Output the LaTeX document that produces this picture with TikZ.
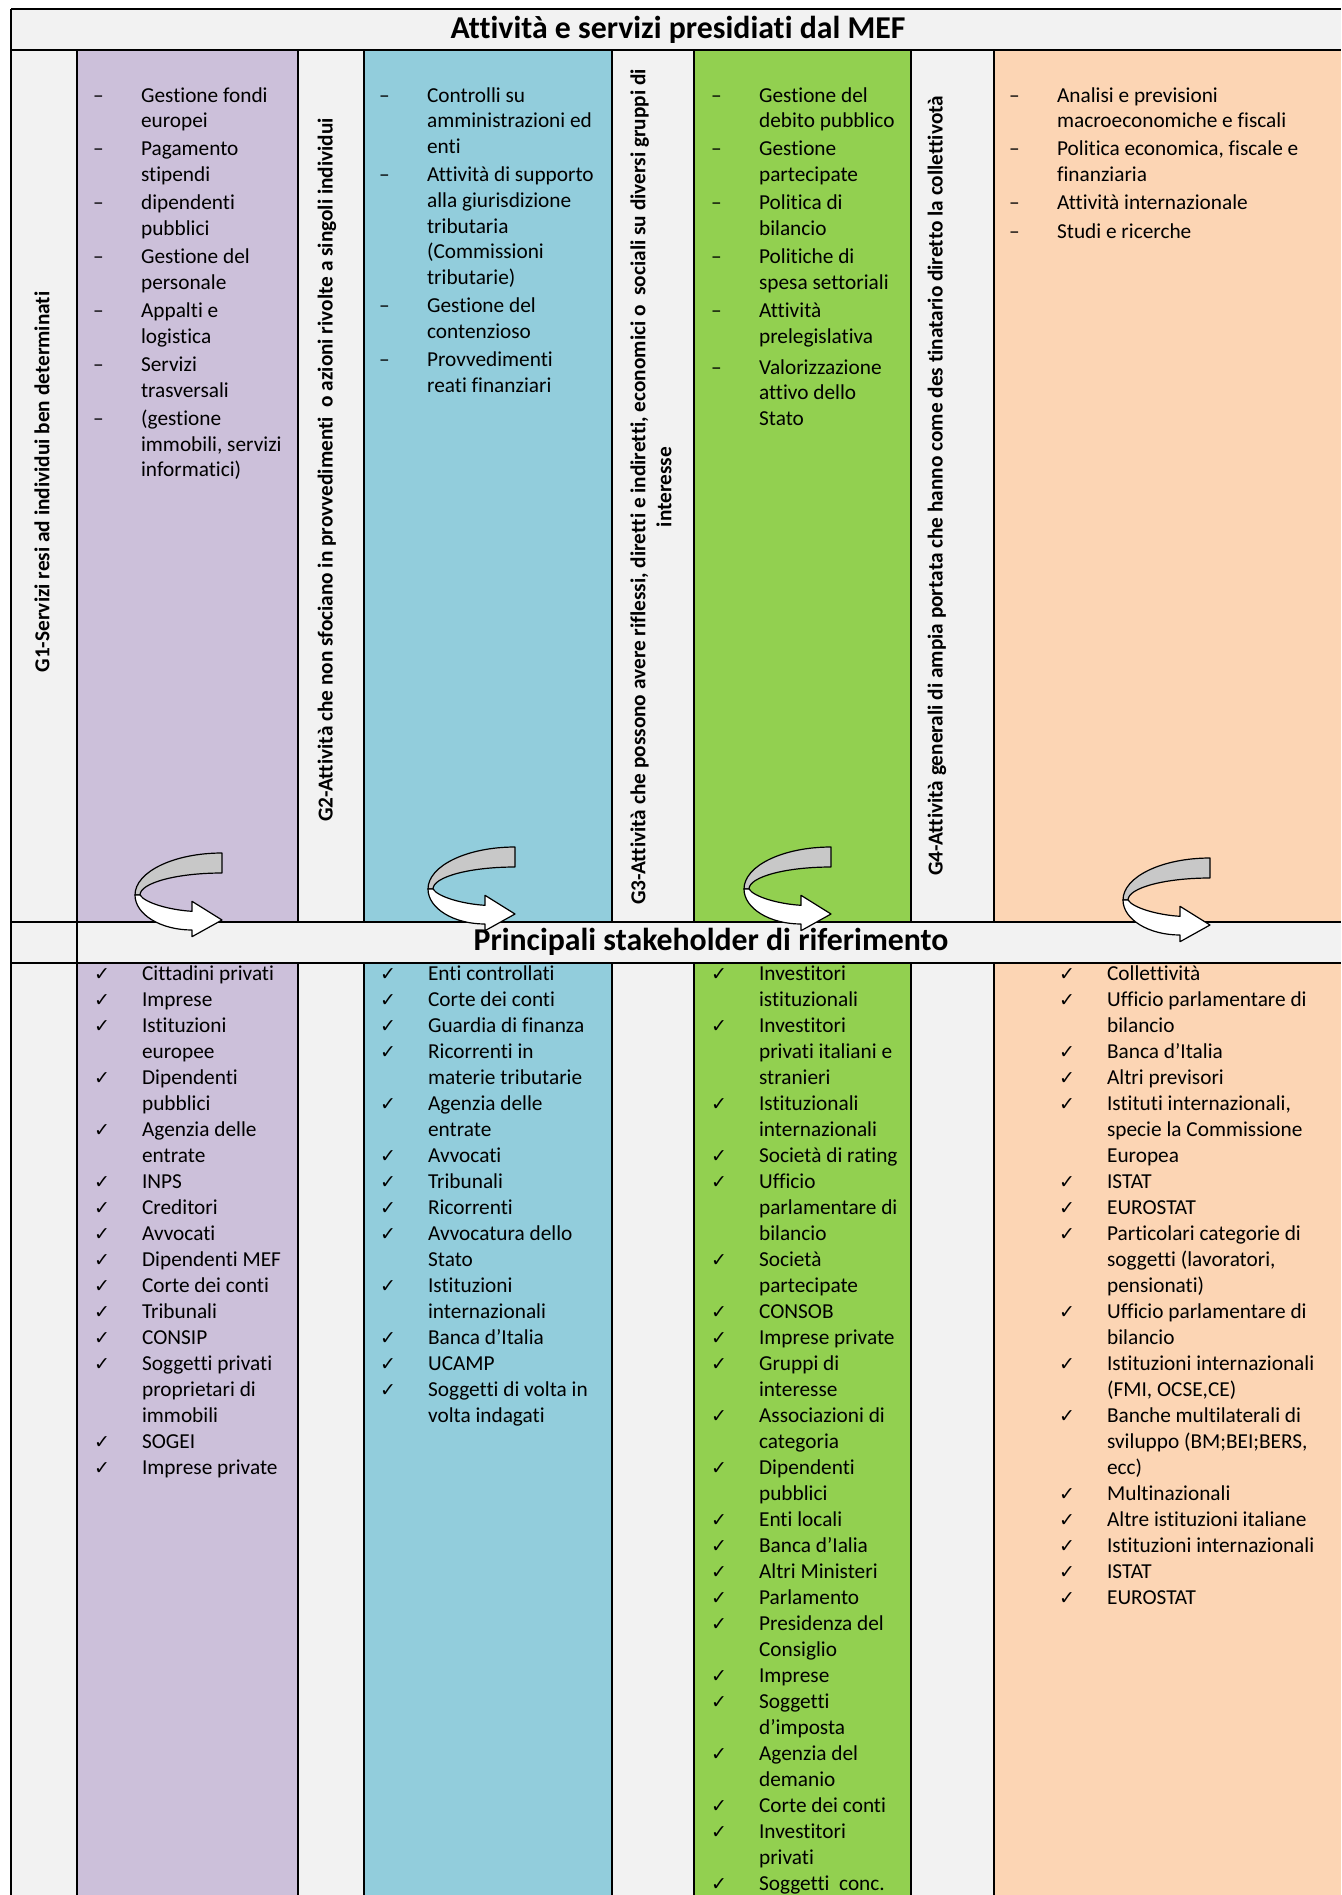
\documentclass[tikz,border=0pt]{standalone}
\usepackage{fontspec}
\setmainfont{Carlito}[Ligatures=NoCommon]
\newfontfamily\symfont{DejaVu Sans}
\usetikzlibrary{positioning}
\tikzset{every picture/.style={line width=1.1pt}}

\definecolor{lilla}{HTML}{CCC0DA}
\definecolor{azzurro}{HTML}{92CDDC}
\definecolor{verde}{HTML}{92D050}
\definecolor{pesca}{HTML}{FCD5B4}
\definecolor{grigio}{HTML}{F2F2F2}
\definecolor{nastro}{HTML}{C8C8C8}

\newcommand{\dsh}{\makebox[24pt][l]{–}}
\newcommand{\cki}{\makebox[24pt][l]{\symfont\fontsize{9.5pt}{9.5pt}\selectfont ✓}}
\newcommand{\spc}{\hspace*{24pt}}
% curved ribbon arrow, origin = left/top of its box
\newcommand{\giro}[2]{%
  \begin{scope}[shift={(#1,#2)}]
    \filldraw[freccia, fill=nastro] (87,0) .. controls (39,0) and (0,18.8) .. (0,42)
      -- (5,42) .. controls (5,29.9) and (41.7,20) .. (87,20) -- cycle;
    \filldraw[freccia, fill=white] (0,42) .. controls (0,61.3) and (25.5,77) .. (57,77)
      -- (57,83.7) -- (87,67) -- (57,48.3) -- (57,58.3)
      .. controls (35,57) and (10,50) .. (5,42) -- cycle;
  \end{scope}}

\begin{document}
\begin{tikzpicture}[x=0.5pt,y=0.5pt,yscale=-1,xscale=1]

     \tikzstyle{voce} = [anchor=base west, inner sep=0pt,
                         font=\fontsize{10.65pt}{12.85pt}\selectfont]
     \tikzstyle{attore} = [anchor=base west, inner sep=0pt,
                         font=\fontsize{10.65pt}{13pt}\selectfont]
     \tikzstyle{gruppo} = [rotate=90, inner sep=0pt, align=center,
                         font=\bfseries\fontsize{10.65pt}{13pt}\selectfont]
     \tikzstyle{titolo} = [inner sep=0pt, font=\bfseries\fontsize{15.9pt}{19pt}\selectfont]
     \tikzstyle{linea} = [draw=black, line width=1.1pt]
     \tikzstyle{freccia} = [draw=black, line width=0.6pt, line join=round]

\useasboundingbox (0,0) rectangle (1341,1895);

% backgrounds
\fill[grigio] (11,9) rectangle (1341,1895);
\foreach \a/\b/\c in {77/298/lilla, 364/612/azzurro, 694/911/verde, 994/1341/pesca} {
  \fill[\c] (\a,50) rectangle (\b,922);
  \fill[\c] (\a,963) rectangle (\b,1895);
}

% grid
\draw[linea] (11,9) -- (1341,9);
\draw[linea] (11,50) -- (1341,50);
\draw[linea] (11,922) -- (1341,922);
\draw[linea] (11,963) -- (1341,963);
\draw[linea] (11,9) -- (11,1895);
\draw[linea] (77,50) -- (77,1895);
\foreach \x in {298,364,612,694,911,994} {
  \draw[linea] (\x,50) -- (\x,922);
  \draw[linea] (\x,963) -- (\x,1895);
}

\node [titolo] (titolo) at (678,29.5) {Attività e servizi presidiati dal MEF};
\node [titolo] (stake) at (711,942) {Principali stakeholder di riferimento};

% group labels
\node [gruppo] (g1) at (42,482) {G1-Servizi resi ad individui ben determinati};
\node [gruppo] (g2) at (327,470) {G2-Attività che non sfociano in provvedimenti \ o azioni rivolte a singoli individui};
\node [gruppo] (g3) at (651,487) {G3-Attività che possono avere riflessi, diretti e indiretti, economici o \ sociali su diversi gruppi di\\interesse};
\node [gruppo] (g4) at (937,486) {G4-Attività generali di ampia portata che hanno come des tinatario diretto la collettivotà};

% activities
\node [voce] (att1) at (92,102) {\begin{tabular}[t]{@{}l@{}}
\dsh Gestione fondi\\ \spc europei\\[1.25pt]
\dsh Pagamento\\ \spc stipendi\\[1.25pt]
\dsh dipendenti\\ \spc pubblici\\[1.25pt]
\dsh Gestione del\\ \spc personale\\[1.25pt]
\dsh Appalti e\\ \spc logistica\\[1.25pt]
\dsh Servizi\\ \spc trasversali\\[1.25pt]
\dsh (gestione\\ \spc immobili, servizi\\ \spc informatici)
\end{tabular}};
\node [voce] (att2) at (378,102) {\begin{tabular}[t]{@{}l@{}}
\dsh Controlli su\\ \spc amministrazioni ed\\ \spc enti\\[1.25pt]
\dsh Attività di supporto\\ \spc alla giurisdizione\\ \spc tributaria\\ \spc (Commissioni\\ \spc tributarie)\\[1.25pt]
\dsh Gestione del\\ \spc contenzioso\\[1.25pt]
\dsh Provvedimenti\\ \spc reati finanziari
\end{tabular}};
\node [voce] (att3) at (710,102) {\begin{tabular}[t]{@{}l@{}}
\dsh Gestione del\\ \spc debito pubblico\\[1.25pt]
\dsh Gestione\\ \spc partecipate\\[1.25pt]
\dsh Politica di\\ \spc bilancio\\[1.25pt]
\dsh Politiche di\\ \spc spesa settoriali\\[1.25pt]
\dsh Attività\\ \spc prelegislativa\\[2.5pt]
\dsh Valorizzazione\\ \spc attivo dello\\ \spc Stato
\end{tabular}};
\node [voce] (att4) at (1008,102) {\begin{tabular}[t]{@{}l@{}}
\dsh Analisi e previsioni\\ \spc macroeconomiche e fiscali\\[1.25pt]
\dsh Politica economica, fiscale e\\ \spc finanziaria\\[1.25pt]
\dsh Attività internazionale\\[1.25pt]
\dsh Studi e ricerche
\end{tabular}};

% stakeholders
\node [attore] (sh1) at (93,980) {\begin{tabular}[t]{@{}l@{}}
\cki Cittadini privati\\
\cki Imprese\\
\cki Istituzioni\\ \spc europee\\
\cki Dipendenti\\ \spc pubblici\\
\cki Agenzia delle\\ \spc entrate\\
\cki INPS\\
\cki Creditori\\
\cki Avvocati\\
\cki Dipendenti MEF\\
\cki Corte dei conti\\
\cki Tribunali\\
\cki CONSIP\\
\cki Soggetti privati\\ \spc proprietari di\\ \spc immobili\\
\cki SOGEI\\
\cki Imprese private
\end{tabular}};
\node [attore] (sh2) at (379,980) {\begin{tabular}[t]{@{}l@{}}
\cki Enti controllati\\
\cki Corte dei conti\\
\cki Guardia di finanza\\
\cki Ricorrenti in\\ \spc materie tributarie\\
\cki Agenzia delle\\ \spc entrate\\
\cki Avvocati\\
\cki Tribunali\\
\cki Ricorrenti\\
\cki Avvocatura dello\\ \spc Stato\\
\cki Istituzioni\\ \spc internazionali\\
\cki Banca d’Italia\\
\cki UCAMP\\
\cki Soggetti di volta in\\ \spc volta indagati
\end{tabular}};
\node [attore] (sh3) at (710,980) {\begin{tabular}[t]{@{}l@{}}
\cki Investitori\\ \spc istituzionali\\
\cki Investitori\\ \spc privati italiani e\\ \spc stranieri\\
\cki Istituzionali\\ \spc internazionali\\
\cki Società di rating\\
\cki Ufficio\\ \spc parlamentare di\\ \spc bilancio\\
\cki Società\\ \spc partecipate\\
\cki CONSOB\\
\cki Imprese private\\
\cki Gruppi di\\ \spc interesse\\
\cki Associazioni di\\ \spc categoria\\
\cki Dipendenti\\ \spc pubblici\\
\cki Enti locali\\
\cki Banca d’Ialia\\
\cki Altri Ministeri\\
\cki Parlamento\\
\cki Presidenza del\\ \spc Consiglio\\
\cki Imprese\\
\cki Soggetti\\ \spc d’imposta\\
\cki Agenzia del\\ \spc demanio\\
\cki Corte dei conti\\
\cki Investitori\\ \spc privati\\
\cki Soggetti \ conc.
\end{tabular}};
\node [attore] (sh4) at (1058,980) {\begin{tabular}[t]{@{}l@{}}
\cki Collettività\\
\cki Ufficio parlamentare di\\ \spc bilancio\\
\cki Banca d’Italia\\
\cki Altri previsori\\
\cki Istituti internazionali,\\ \spc specie la Commissione\\ \spc Europea\\
\cki ISTAT\\
\cki EUROSTAT\\
\cki Particolari categorie di\\ \spc soggetti (lavoratori,\\ \spc pensionati)\\
\cki Ufficio parlamentare di\\ \spc bilancio\\
\cki Istituzioni internazionali\\ \spc (FMI, OCSE,CE)\\
\cki Banche multilaterali di\\ \spc sviluppo (BM;BEI;BERS,\\ \spc ecc)\\
\cki Multinazionali\\
\cki Altre istituzioni italiane\\
\cki Istituzioni internazionali\\
\cki ISTAT\\
\cki EUROSTAT
\end{tabular}};

% arrows between the two bands
\giro{135}{853}
\giro{428}{847}
\giro{744}{847}
\giro{1123}{858}

\end{tikzpicture}
\end{document}
